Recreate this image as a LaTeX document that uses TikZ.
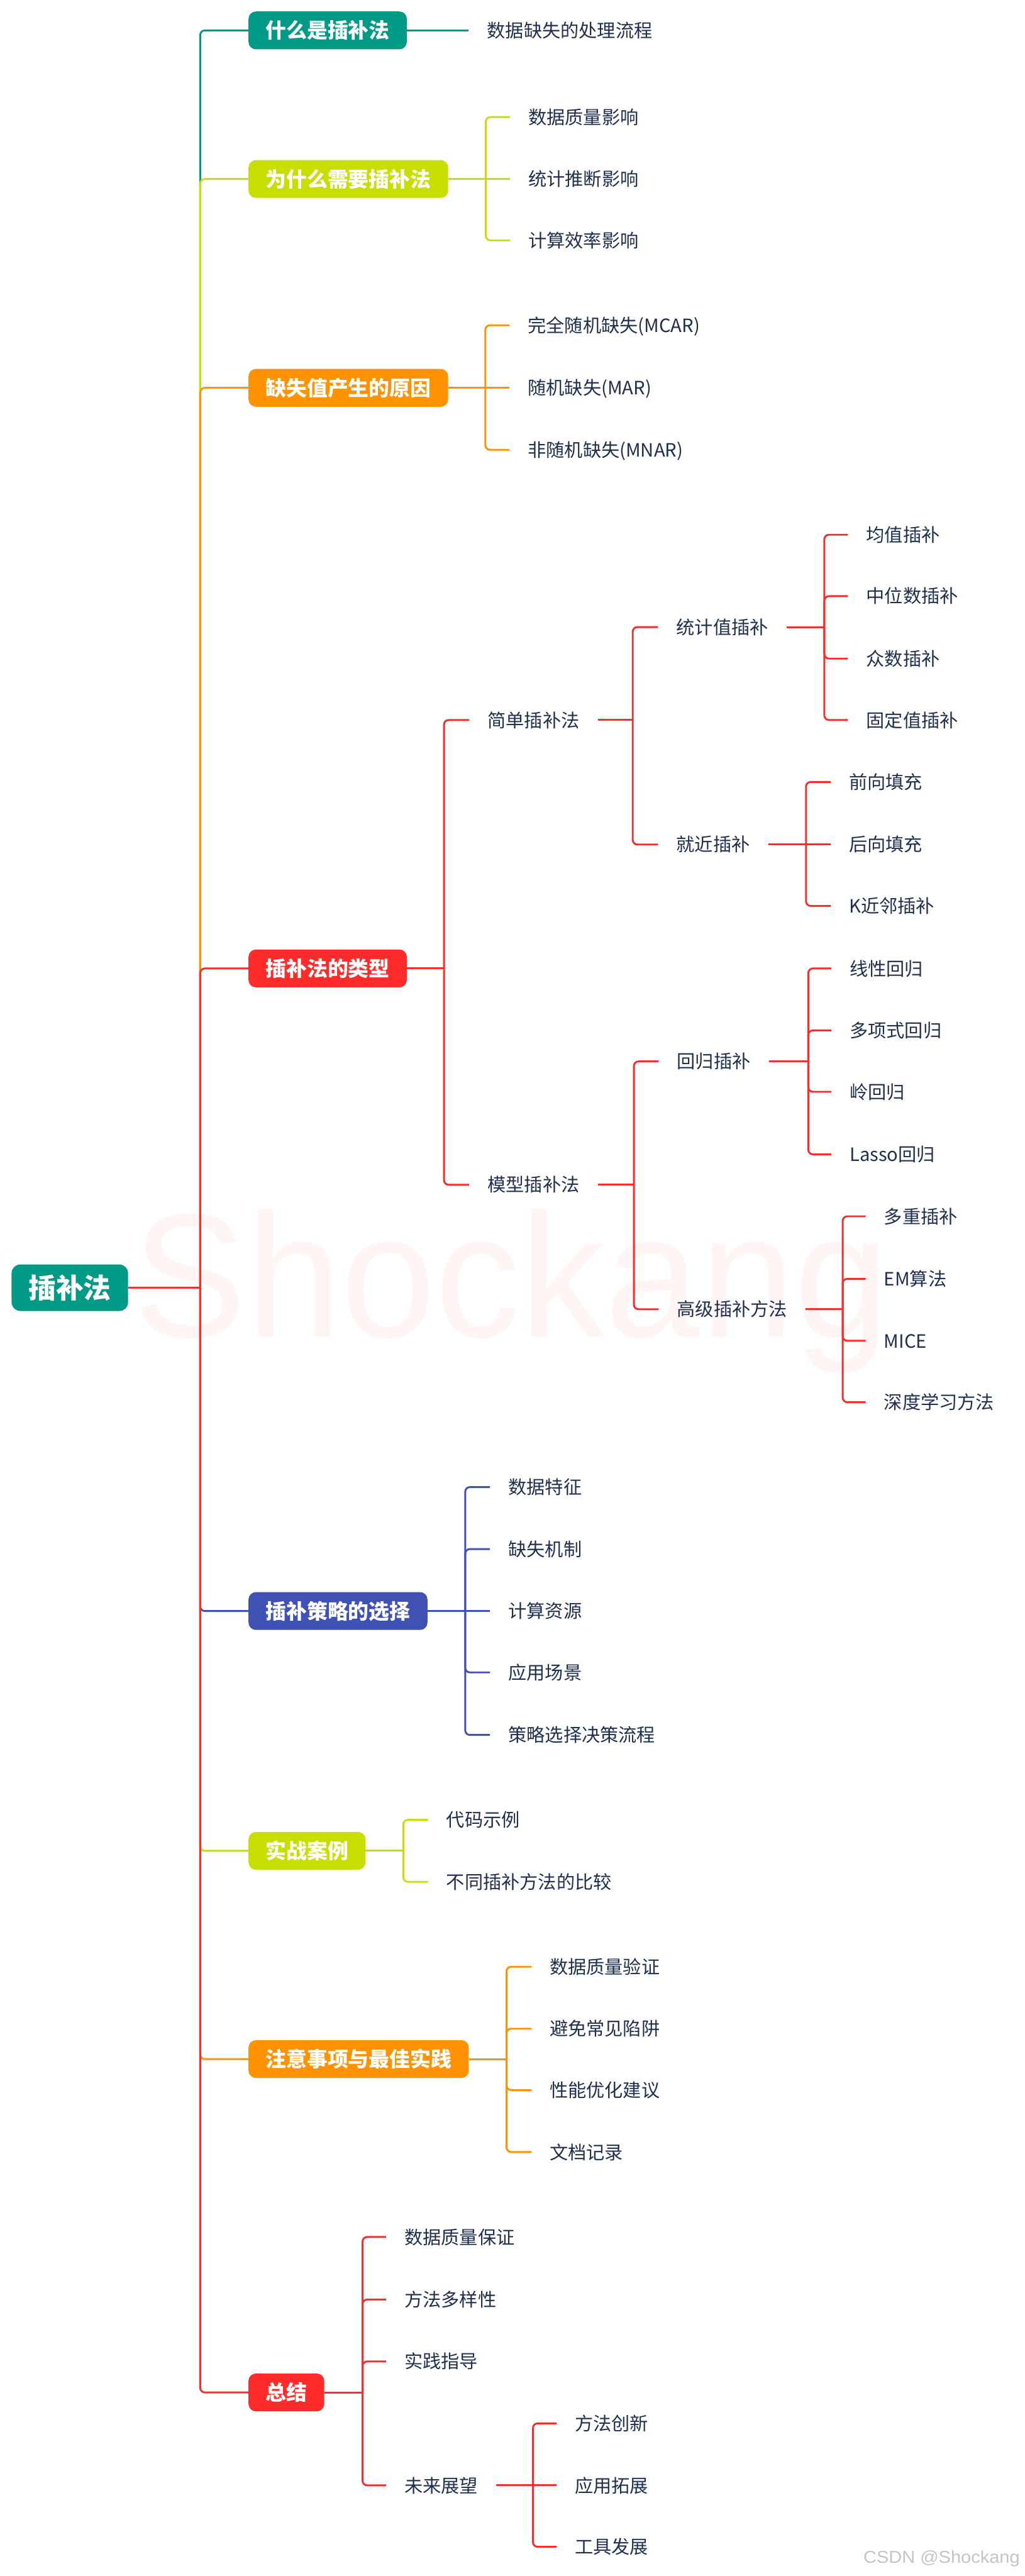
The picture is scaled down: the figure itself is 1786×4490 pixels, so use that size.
\documentclass[tikz,border=0pt]{standalone}
\usepackage{fontspec}
\setmainfont{Noto Sans CJK SC}
\newfontfamily\markfont{Liberation Sans}
\usepackage{xcolor}
\usetikzlibrary{positioning, calc}
\definecolor{MapTeal}{HTML}{009A87}
\definecolor{MapLime}{HTML}{C8DD00}
\definecolor{MapOrange}{HTML}{FF9200}
\definecolor{MapRed}{HTML}{FF2B2B}
\definecolor{MapBlue}{HTML}{3F51B5}
\definecolor{MapInk}{HTML}{1F2F50}
\definecolor{MapMark}{HTML}{FFF5F5}
\definecolor{MapGray}{HTML}{C4C4C4}

\tikzset{
  rootbox/.style={fill=MapTeal, text=white, rounded corners=15pt,
    font=\fontsize{48}{52}\selectfont\bfseries,
    inner xsep=29.5pt, inner ysep=16.5pt, text height=42.2pt, text depth=5.8pt},
  topicbox/.style={fill=#1, text=white, rounded corners=13pt, anchor=west,
    font=\fontsize{36}{40}\selectfont\bfseries,
    inner xsep=30pt, inner ysep=15pt, text height=31.7pt, text depth=4.3pt},
  leaf/.style={text=MapInk, anchor=west, font=\fontsize{32}{36}\selectfont,
    inner xsep=32pt, inner ysep=0pt, text height=28.2pt, text depth=3.8pt},
  conn/.style={draw=#1, line width=3.2pt, rounded corners=8pt},
}

\begin{document}
\begin{tikzpicture}[x=1pt, y=-1pt]
\fill[white] (0,0) rectangle (1786,4490);
\useasboundingbox (0,0) rectangle (1786,4490);

% --- Watermark ---
\node[anchor=base west, inner sep=0pt, xscale=0.965, text=MapMark,
  font=\markfont\fontsize{307}{310}\selectfont] (mark) at (232,2330) {Shockang};

% --- Root and main spine ---
\node[rootbox] (root) at (121.75,2244.5) {插补法};
\coordinate (spine) at (349,2244.5);

% --- Main topics ---
\node[topicbox=MapTeal]   (b1) at (433,53)   {什么是插补法};
\node[topicbox=MapLime]   (b2) at (433,312)  {为什么需要插补法};
\node[topicbox=MapOrange] (b3) at (433,676)  {缺失值产生的原因};
\node[topicbox=MapRed]    (b4) at (433,1688) {插补法的类型};
\node[topicbox=MapBlue]   (b5) at (433,2808) {插补策略的选择};
\node[topicbox=MapLime]   (b6) at (433,3226) {实战案例};
\node[topicbox=MapOrange] (b7) at (433,3589) {注意事项与最佳实践};
\node[topicbox=MapRed]    (b8) at (433,4170) {总结};

% Spine connectors, drawn top to bottom
\draw[conn=MapTeal]   (spine) |- (b1.west);
\draw[conn=MapLime]   (spine) |- (b2.west);
\draw[conn=MapOrange] (spine) |- (b3.west);
\draw[conn=MapRed]    (spine) |- (b4.west);
\draw[conn=MapBlue]   (spine) |- (b5.west);
\draw[conn=MapLime]   (spine) |- (b6.west);
\draw[conn=MapOrange] (spine) |- (b7.west);
\draw[conn=MapRed]    (spine) |- (b8.west);
\draw[conn=MapRed]    (root.east) -- (spine);

% --- (1) What ---
\node[leaf] (b1a) at (817,53) {数据缺失的处理流程};
\draw[conn=MapTeal] (b1.east) -- (b1a.west);

% --- (2) Why ---
\coordinate (b2j) at (847,312);
\node[leaf] (b2a) at (889,204) {数据质量影响};
\node[leaf] (b2b) at (889,312) {统计推断影响};
\node[leaf] (b2c) at (889,419) {计算效率影响};
\draw[conn=MapLime] (b2.east) -- (b2j) -- (b2b.west);
\foreach \c in {b2a,b2c} \draw[conn=MapLime] (b2j) |- (\c.west);

% --- (3) Causes ---
\coordinate (b3j) at (846,676);
\node[leaf] (b3a) at (888,567) {完全随机缺失(MCAR)};
\node[leaf] (b3b) at (888,676) {随机缺失(MAR)};
\node[leaf] (b3c) at (888,784) {非随机缺失(MNAR)};
\draw[conn=MapOrange] (b3.east) -- (b3j) -- (b3b.west);
\foreach \c in {b3a,b3c} \draw[conn=MapOrange] (b3j) |- (\c.west);

% --- (4) Types ---
\coordinate (b4j) at (774,1688);
\node[leaf] (b4a) at (818,1255) {简单插补法};
\node[leaf] (b4b) at (818,2065) {模型插补法};
\draw[conn=MapRed] (b4.east) -- (b4j);
\foreach \c in {b4a,b4b} \draw[conn=MapRed] (b4j) |- (\c.west);

% simple methods
\coordinate (b4aj) at (1103,1255);
\node[leaf] (b4aa) at (1147,1093) {统计值插补};
\node[leaf] (b4ab) at (1147,1472) {就近插补};
\draw[conn=MapRed] (b4a.east) -- (b4aj);
\foreach \c in {b4aa,b4ab} \draw[conn=MapRed] (b4aj) |- (\c.west);

\coordinate (b4aaj) at (1437,1093);
\node[leaf] (b4aa1) at (1478,932)  {均值插补};
\node[leaf] (b4aa2) at (1478,1039) {中位数插补};
\node[leaf] (b4aa3) at (1478,1148) {众数插补};
\node[leaf] (b4aa4) at (1478,1255) {固定值插补};
\draw[conn=MapRed] (b4aa.east) -- (b4aaj);
\foreach \c in {b4aa1,b4aa2,b4aa3,b4aa4} \draw[conn=MapRed] (b4aaj) |- (\c.west);

\coordinate (b4abj) at (1405,1472);
\node[leaf] (b4ab1) at (1448,1363) {前向填充};
\node[leaf] (b4ab2) at (1448,1472) {后向填充};
\node[leaf] (b4ab3) at (1448,1579) {K近邻插补};
\draw[conn=MapRed] (b4ab.east) -- (b4abj) -- (b4ab2.west);
\foreach \c in {b4ab1,b4ab3} \draw[conn=MapRed] (b4abj) |- (\c.west);

% model methods
\coordinate (b4bj) at (1105,2065);
\node[leaf] (b4ba) at (1148,1850) {回归插补};
\node[leaf] (b4bb) at (1148,2282) {高级插补方法};
\draw[conn=MapRed] (b4b.east) -- (b4bj);
\foreach \c in {b4ba,b4bb} \draw[conn=MapRed] (b4bj) |- (\c.west);

\coordinate (b4baj) at (1409,1850);
\node[leaf] (b4ba1) at (1449,1688) {线性回归};
\node[leaf] (b4ba2) at (1449,1796) {多项式回归};
\node[leaf] (b4ba3) at (1449,1903) {岭回归};
\node[leaf] (b4ba4) at (1449,2012) {Lasso回归};
\draw[conn=MapRed] (b4ba.east) -- (b4baj);
\foreach \c in {b4ba1,b4ba2,b4ba3,b4ba4} \draw[conn=MapRed] (b4baj) |- (\c.west);

\coordinate (b4bbj) at (1469,2282);
\node[leaf] (b4bb1) at (1509,2120) {多重插补};
\node[leaf] (b4bb2) at (1509,2229) {EM算法};
\node[leaf] (b4bb3) at (1509,2337) {MICE};
\node[leaf] (b4bb4) at (1509,2444) {深度学习方法};
\draw[conn=MapRed] (b4bb.east) -- (b4bbj);
\foreach \c in {b4bb1,b4bb2,b4bb3,b4bb4} \draw[conn=MapRed] (b4bbj) |- (\c.west);

% --- (5) Strategy ---
\coordinate (b5j) at (811,2808);
\node[leaf] (b5a) at (854,2592) {数据特征};
\node[leaf] (b5b) at (854,2700) {缺失机制};
\node[leaf] (b5c) at (854,2808) {计算资源};
\node[leaf] (b5d) at (854,2915) {应用场景};
\node[leaf] (b5e) at (854,3024) {策略选择决策流程};
\draw[conn=MapBlue] (b5.east) -- (b5j) -- (b5c.west);
\foreach \c in {b5a,b5b,b5d,b5e} \draw[conn=MapBlue] (b5j) |- (\c.west);

% --- (6) Cases ---
\coordinate (b6j) at (703,3226);
\node[leaf] (b6a) at (746,3172) {代码示例};
\node[leaf] (b6b) at (746,3280) {不同插补方法的比较};
\draw[conn=MapLime] (b6.east) -- (b6j);
\foreach \c in {b6a,b6b} \draw[conn=MapLime] (b6j) |- (\c.west);

% --- (7) Practice ---
\coordinate (b7j) at (883,3589);
\node[leaf] (b7a) at (926,3428) {数据质量验证};
\node[leaf] (b7b) at (926,3536) {避免常见陷阱};
\node[leaf] (b7c) at (926,3643) {性能优化建议};
\node[leaf] (b7d) at (926,3751) {文档记录};
\draw[conn=MapOrange] (b7.east) -- (b7j);
\foreach \c in {b7a,b7b,b7c,b7d} \draw[conn=MapOrange] (b7j) |- (\c.west);

% --- (8) Summary ---
\coordinate (b8j) at (632,4170);
\node[leaf] (b8a) at (673,3899) {数据质量保证};
\node[leaf] (b8b) at (673,4008) {方法多样性};
\node[leaf] (b8c) at (673,4116) {实践指导};
\node[leaf] (b8d) at (673,4332) {未来展望};
\draw[conn=MapRed] (b8.east) -- (b8j);
\foreach \c in {b8a,b8b,b8c,b8d} \draw[conn=MapRed] (b8j) |- (\c.west);

\coordinate (b8dj) at (929,4332);
\node[leaf] (b8d1) at (970,4224) {方法创新};
\node[leaf] (b8d2) at (970,4332) {应用拓展};
\node[leaf] (b8d3) at (970,4439) {工具发展};
\draw[conn=MapRed] (b8d.east) -- (b8dj) -- (b8d2.west);
\foreach \c in {b8d1,b8d3} \draw[conn=MapRed] (b8dj) |- (\c.west);

% --- Credit ---
\node[anchor=base east, inner sep=0pt, xscale=1.06, text=MapGray,
  font=\markfont\fontsize{30}{32}\selectfont] (credit) at (1778,4467) {CSDN @Shockang};
\end{tikzpicture}
\end{document}
